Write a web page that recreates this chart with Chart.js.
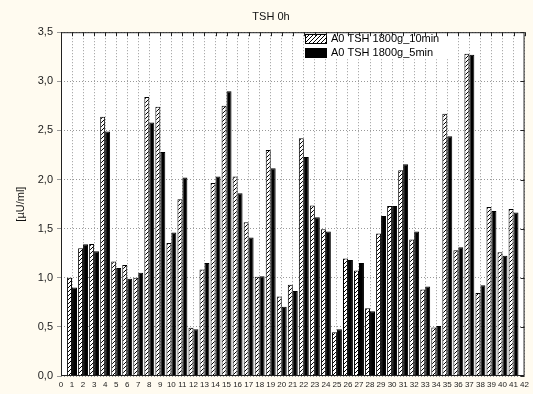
<!DOCTYPE html>
<html>
<head>
<meta charset="utf-8">
<script src="https://cdn.jsdelivr.net/npm/chart.js@4"></script>
<style>
  html, body { margin: 0; padding: 0; background: #fffbf0; }
  #wrap { width: 533px; height: 394px; }
</style>
</head>
<body>
<div id="wrap"><canvas id="tshChart"></canvas></div>
<script>
// sample numbers 0..42 (only 1..41 have values)
const labels = [];
for (let i = 0; i <= 42; i++) labels.push(String(i));

const tsh10min = [null, 1.00, 1.30, 1.345, 2.64, 1.165, 1.13, 1.00, 2.84, 2.74, 1.355,
  1.80, 0.49, 1.085, 1.965, 2.75, 2.03, 1.565, 1.01, 2.30, 0.81,
  0.93, 2.42, 1.735, 1.495, 0.445, 1.195, 1.075, 0.69, 1.45, 1.73,
  2.095, 1.39, 0.88, 0.495, 2.67, 1.28, 3.28, 0.845, 1.72, 1.26,
  1.70, null];
const tsh5min = [null, 0.90, 1.34, 1.27, 2.49, 1.10, 0.99, 1.05, 2.58, 2.28, 1.46,
  2.02, 0.475, 1.15, 2.03, 2.90, 1.86, 1.41, 1.015, 2.115, 0.705,
  0.865, 2.23, 1.615, 1.47, 0.475, 1.18, 1.15, 0.66, 1.63, 1.73,
  2.155, 1.47, 0.91, 0.51, 2.44, 1.31, 3.27, 0.925, 1.68, 1.225,
  1.665, null];
const seriesNames = ['A0 TSH 1800g_10min', 'A0 TSH 1800g_5min'];

// diagonal hatch fill
function makeHatch() {
  const c = document.createElement('canvas');
  c.width = 4; c.height = 4;
  const g = c.getContext('2d');
  g.fillStyle = '#fff';
  g.fillRect(0, 0, 4, 4);
  g.strokeStyle = '#000';
  g.lineWidth = 1;
  g.beginPath();
  g.moveTo(0, 4); g.lineTo(4, 0);
  g.moveTo(-1, 1); g.lineTo(1, -1);
  g.moveTo(3, 5); g.lineTo(5, 3);
  g.stroke();
  return g.createPattern(c, 'repeat');
}
const hatch = makeHatch();

const frame = {
  id: 'frame',
  beforeDraw(chart) {
    const { ctx, chartArea: a } = chart;
    ctx.save();
    ctx.fillStyle = '#fffbf0';
    ctx.fillRect(0, 0, chart.width, chart.height);
    ctx.fillStyle = '#fff';
    ctx.fillRect(a.left, a.top, a.right - a.left, a.bottom - a.top);
    ctx.restore();
  },
  afterDatasetsDraw(chart) {
    const { ctx, chartArea: a, scales } = chart;
    ctx.save();

    // legend inside the plot, on a white patch
    const lx = 305, ly = 34;
    ctx.fillStyle = '#fff';
    ctx.fillRect(lx - 1, a.top + 1, 146, 26);
    ctx.font = '11px "Liberation Sans", Arial, sans-serif';
    ctx.textBaseline = 'middle';
    const fills = [hatch, '#000'];
    seriesNames.forEach((name, i) => {
      const y = ly + i * 14;
      ctx.fillStyle = fills[i];
      ctx.fillRect(lx, y, 22, 10);
      ctx.strokeStyle = '#000';
      ctx.lineWidth = 1;
      ctx.strokeRect(lx + 0.5, y + 0.5, 21, 9);
      ctx.fillStyle = '#000';
      ctx.fillText(name, lx + 26, y + 5);
    });

    ctx.strokeStyle = '#222';
    ctx.lineWidth = 1;
    ctx.strokeRect(a.left + 0.5, a.top + 0.5, a.right - a.left - 1, a.bottom - a.top - 1);
    // inward ticks on top and right
    ctx.beginPath();
    scales.x.ticks.forEach((t, i) => {
      const x = Math.round(scales.x.getPixelForTick(i)) + 0.5;
      ctx.moveTo(x, a.top); ctx.lineTo(x, a.top + 4);
    });
    scales.y.ticks.forEach((t, i) => {
      const y = Math.round(scales.y.getPixelForTick(i)) + 0.5;
      ctx.moveTo(a.right, y); ctx.lineTo(a.right - 4, y);
    });
    ctx.stroke();
    ctx.restore();
  }
};

const ctx = document.getElementById('tshChart');
new Chart(ctx, {
  type: 'bar',
  data: {
    labels: labels,
    datasets: [{
      label: seriesNames[0],
      data: tsh10min,
      backgroundColor: hatch,
      borderColor: '#000',
      borderWidth: 1,
      borderSkipped: 'bottom'
    }, {
      label: seriesNames[1],
      data: tsh5min,
      backgroundColor: '#000',
      borderColor: '#000',
      borderWidth: 1,
      borderSkipped: 'bottom'
    }]
  },
  options: {
    responsive: true,
    maintainAspectRatio: false,
    animation: false,
    devicePixelRatio: 1,
    layout: { padding: { left: 14, right: 5, top: 0, bottom: 0 } },
    datasets: { bar: { categoryPercentage: 0.9, barPercentage: 1.0 } },
    plugins: {
      legend: { display: false },
      tooltip: { enabled: false },
      title: {
        display: true,
        text: 'TSH 0h',
        color: '#111',
        font: { family: '"Liberation Sans", Arial, sans-serif', size: 11, weight: 'normal' },
        padding: { top: 10, bottom: 9 }
      }
    },
    scales: {
      x: {
        offset: false,
        grid: { color: '#999', drawTicks: false, offset: false },
        border: { display: false, dash: [1, 2] },
        ticks: {
          color: '#222',
          autoSkip: false,
          maxRotation: 0,
          padding: 4,
          font: { family: '"Liberation Sans", Arial, sans-serif', size: 8 }
        },
        afterFit(scale) { scale.height = 18; }
      },
      y: {
        min: 0,
        max: 3.5,
        grid: { color: '#999', drawTicks: true, tickLength: 4 },
        border: { display: false, dash: [1, 2] },
        ticks: {
          stepSize: 0.5,
          color: '#222',
          padding: 4,
          font: { family: '"Liberation Sans", Arial, sans-serif', size: 11 },
          callback: v => v.toFixed(1).replace('.', ',')
        },
        title: {
          display: true,
          text: '[µU/ml]',
          color: '#111',
          padding: 0,
          font: { family: '"Liberation Sans", Arial, sans-serif', size: 11 }
        },
        afterFit(scale) { scale.width = 47; }
      }
    }
  },
  plugins: [frame]
});
</script>
</body>
</html>
